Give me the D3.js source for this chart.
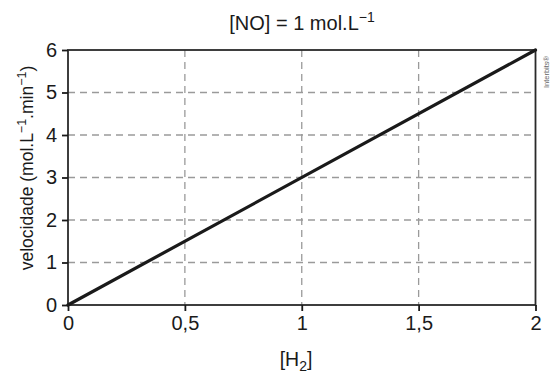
<!DOCTYPE html>
<html>
<head>
<meta charset="utf-8">
<script src="https://cdn.jsdelivr.net/npm/d3@7"></script>
<style>
  html, body { margin: 0; padding: 0; background: #fff; }
  svg { display: block; font-family: "Liberation Sans", Arial, sans-serif; }
</style>
</head>
<body>
<svg id="chart" width="550" height="377"></svg>
<script>
// Reaction rate versus [H2] at fixed [NO]
const concH2 = [0, 2];
const rate = [0, 6];
const xTicks = [0, 0.5, 1, 1.5, 2];
const xTickLabels = ["0", "0,5", "1", "1,5", "2"];
const yTicks = [0, 1, 2, 3, 4, 5, 6];

const svg = d3.select("#chart");
const margin = { left: 68, right: 14.5, top: 50, bottom: 72 };
const W = 550, H = 377;

const x = d3.scaleLinear().domain([0, 2]).range([margin.left, W - margin.right]);
const y = d3.scaleLinear().domain([0, 6]).range([H - margin.bottom, margin.top]);

// dashed grid
const grid = svg.append("g").attr("stroke", "#9a9a9a").attr("stroke-width", 1.3)
  .attr("stroke-dasharray", "7,5");
grid.selectAll("line.v").data(xTicks.slice(1, -1)).join("line")
  .attr("x1", d => x(d)).attr("x2", d => x(d))
  .attr("y1", y(6)).attr("y2", y(0));
grid.selectAll("line.h").data(yTicks.slice(1, -1)).join("line")
  .attr("x1", x(0)).attr("x2", x(2))
  .attr("y1", d => y(d)).attr("y2", d => y(d));

// frame
svg.append("rect")
  .attr("x", x(0)).attr("y", y(6))
  .attr("width", x(2) - x(0)).attr("height", y(0) - y(6))
  .attr("fill", "none").attr("stroke", "#2a2a2a").attr("stroke-width", 1.8);

// axes
const xAxis = svg.append("g")
  .attr("transform", `translate(0,${y(0)})`)
  .call(d3.axisBottom(x).tickValues(xTicks).tickFormat((d, i) => xTickLabels[i])
    .tickSizeInner(6).tickSizeOuter(0).tickPadding(5));
const yAxis = svg.append("g")
  .attr("transform", `translate(${x(0)},0)`)
  .call(d3.axisLeft(y).tickValues(yTicks).tickFormat(d3.format("d"))
    .tickSizeInner(6).tickSizeOuter(0).tickPadding(5));
[xAxis, yAxis].forEach(g => {
  g.select(".domain").remove();
  g.selectAll(".tick line").attr("stroke", "#1a1a1a").attr("stroke-width", 1.8);
  g.selectAll(".tick text").attr("fill", "#1a1a1a")
    .style("font-size", "20px").style("font-family", "'Liberation Sans', Arial, sans-serif");
});

// data line
svg.append("path")
  .datum(concH2.map((c, i) => [c, rate[i]]))
  .attr("d", d3.line().x(d => x(d[0])).y(d => y(d[1])))
  .attr("fill", "none").attr("stroke", "#1a1a1a").attr("stroke-width", 3.2)
  .attr("stroke-linecap", "round");

// title
const title = svg.append("text")
  .attr("x", 302).attr("y", 30).attr("text-anchor", "middle")
  .attr("fill", "#1a1a1a").style("font-size", "20px");
title.append("tspan").text("[NO] = 1 mol.L");
title.append("tspan").attr("dy", -8).style("font-size", "14px").text("−1");

// y label
const ylab = svg.append("text")
  .attr("transform", "translate(33,168) rotate(-90)")
  .attr("text-anchor", "middle").attr("fill", "#1a1a1a").style("font-size", "17.5px");
ylab.append("tspan").text("velocidade (mol.L");
ylab.append("tspan").attr("dy", -7).style("font-size", "12.5px").text("−1");
ylab.append("tspan").attr("dy", 7).text(".min");
ylab.append("tspan").attr("dy", -7).style("font-size", "12.5px").text("−1");
ylab.append("tspan").attr("dy", 7).text(")");

// x label
const xlab = svg.append("text")
  .attr("x", 296).attr("y", 366).attr("text-anchor", "middle")
  .attr("fill", "#1a1a1a").style("font-size", "19.5px");
xlab.append("tspan").text("[H");
xlab.append("tspan").attr("dy", 5).style("font-size", "14px").text("2");
xlab.append("tspan").attr("dy", -5).text("]");

// credit
svg.append("text")
  .attr("transform", "translate(549,72) rotate(-90)")
  .attr("text-anchor", "middle").attr("fill", "#666")
  .style("font-size", "7.5px").text("Interbits®");
</script>
</body>
</html>
